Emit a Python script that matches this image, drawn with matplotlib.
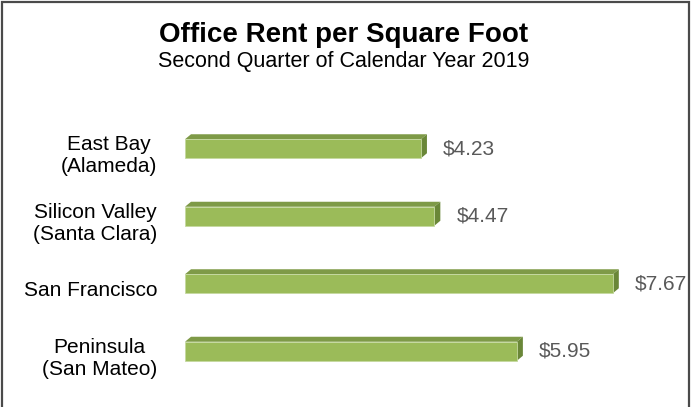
import matplotlib.pyplot as plt
from matplotlib.patches import Polygon, Rectangle

plt.rcParams['font.family'] = ['Liberation Sans', 'DejaVu Sans']

# data
regions = ['East Bay\n(Alameda)', 'Silicon Valley\n(Santa Clara)', 'San Francisco', 'Peninsula\n(San Mateo)']
rents = [4.23, 4.47, 7.67, 5.95]
value_labels = ['$4.23', '$4.47', '$7.67', '$5.95']

W, H = 692, 407
fig = plt.figure(figsize=(W / 100, H / 100), dpi=100)

# axes placed in pixels
ax_left, ax_right = 185, 687
ax_top, ax_bottom = 115, 385
ax = fig.add_axes([ax_left / W, 1 - ax_bottom / H, (ax_right - ax_left) / W, (ax_bottom - ax_top) / H])
ax.set_xlim(0, 9)
ax.set_ylim(3.5, -0.5)
ax.axis('off')

px_x = (ax_right - ax_left) / 9.0      # pixels per x unit
px_y = (ax_bottom - ax_top) / 4.0      # pixels per y unit

front = '#9BBB59'
top_c = '#7E9A47'
side_c = '#6A8738'
bar_h = 19 / px_y
dx = 6 / px_x
dy = 5 / px_y

ypos = list(range(len(regions)))
ax.barh(ypos, rents, height=bar_h, color=front, edgecolor='#C5D9A0', linewidth=0.6, zorder=3)

for y, v, lab, txt in zip(ypos, rents, value_labels, regions):
    t = y - bar_h / 2
    b = y + bar_h / 2
    ax.add_patch(Polygon([(0, t), (v, t), (v + dx, t - dy), (dx, t - dy)],
                         closed=True, facecolor=top_c, edgecolor='none', zorder=2))
    ax.add_patch(Polygon([(v, t), (v + dx, t - dy), (v + dx, b - dy), (v, b)],
                         closed=True, facecolor=side_c, edgecolor='none', zorder=2))
    ax.annotate(lab, xy=(v + dx, y), xytext=(16, 0), textcoords='offset pixels',
                ha='left', va='center', fontsize=15, color='#595959', annotation_clip=False)
    ax.annotate(txt, xy=(0, y), xytext=(-28, -7), textcoords='offset pixels',
                ha='right', va='center', multialignment='center', fontsize=15,
                color='#000000', annotation_clip=False)

fig.text(0.497, 1 - 42 / H, 'Office Rent per Square Foot', ha='center', va='baseline',
         fontsize=20, fontweight='bold', color='#000000')
fig.text(0.497, 1 - 67 / H, 'Second Quarter of Calendar Year 2019', ha='center', va='baseline',
         fontsize=15.5, color='#000000')

# outer frame (bottom edge lies outside the image)
fig.patches.append(Rectangle((2 / W, -0.1), (689 - 2) / W, 1.1 - 2 / H, transform=fig.transFigure,
                             fill=False, edgecolor='#4A4A4A', linewidth=1.6))

fig.savefig('out.png', dpi=100)
